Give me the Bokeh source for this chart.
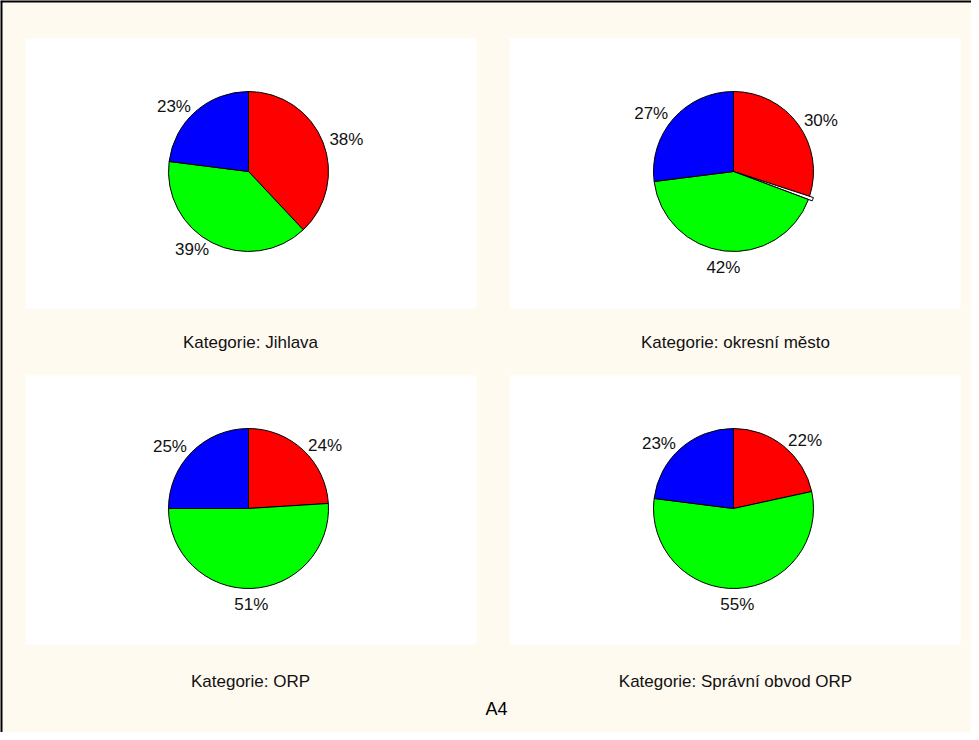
import math
from bokeh.plotting import figure
from bokeh.models import ColumnDataSource, Range1d, Span
from bokeh.core.properties import value
from bokeh.embed import file_html
from bokeh.resources import INLINE

# ---- data ----
categories = ["Jihlava", "okresní město", "ORP", "Správní obvod ORP"]
titles = ["Kategorie: " + c for c in categories]
slice_colors = ["#FF0000", "#FFFFFF", "#00FF00", "#0000FF"]
jihlava = [38.0, 0.0, 39.0, 23.0]
okresni_mesto = [30.0, 0.7, 42.3, 27.0]
orp = [24.0, 0.0, 51.0, 25.0]
spravni_obvod_orp = [21.6, 0.0, 55.4, 23.0]
series = [jihlava, okresni_mesto, orp, spravni_obvod_orp]
footer = "A4"

# ---- layout (pixels) ----
W, H = 971, 732
cream = "#FFFAF0"
font = value("Liberation Sans")
R = 80
pie_centers = [(248, 561), (733, 561), (248, 224), (733, 224)]
panels = [(25, 476, 424, 694), (509, 960, 424, 694), (25, 476, 88, 357), (509, 960, 88, 357)]
title_y = [390, 390, 51.5, 51.5]

p = figure(width=W, height=H, x_range=Range1d(0, W), y_range=Range1d(0, H),
           output_backend="svg", toolbar_location=None, min_border=0,
           x_axis_type=None, y_axis_type=None)
p.grid.visible = False
p.outline_line_color = None
p.background_fill_color = cream
p.border_fill_color = cream

# white panels
p.quad(left=[b[0] for b in panels], right=[b[1] for b in panels],
       bottom=[b[2] for b in panels], top=[b[3] for b in panels],
       fill_color="white", line_color=None)

wx, wy, ws, we, wc = [], [], [], [], []
lx, ly, lt, la, lb = [], [], [], [], []
for (cx, cy), vals in zip(pie_centers, series):
    total = sum(vals)
    cum = 0.0
    for v, col in zip(vals, slice_colors):
        if v <= 0:
            continue
        a0 = math.radians(90 - cum / total * 360)
        cum += v
        a1 = math.radians(90 - cum / total * 360)
        mid = (a0 + a1) / 2
        off = 4 if v < 1 else 0
        wx.append(cx + off * math.cos(mid)); wy.append(cy + off * math.sin(mid))
        ws.append(a1); we.append(a0); wc.append(col)
        if v >= 1:
            c, s = math.cos(mid), math.sin(mid)
            lx.append(cx + (R + 7) * c); ly.append(cy + (R + 7) * s)
            lt.append(f"{round(v)}%")
            if abs(c) < 0.3:
                la.append("center"); lb.append("top" if s < 0 else "bottom")
            else:
                la.append("left" if c > 0 else "right"); lb.append("middle")

p.wedge(x="x", y="y", radius=R, start_angle="s", end_angle="e", fill_color="c",
        line_color="black", line_width=1,
        source=ColumnDataSource(dict(x=wx, y=wy, s=ws, e=we, c=wc)))

p.text(x="x", y="y", text="t", text_align="a", text_baseline="b",
       text_font=font, text_font_size="17px", text_color="#111111",
       source=ColumnDataSource(dict(x=lx, y=ly, t=lt, a=la, b=lb)))

p.text(x=[c[0] + 2 for c in pie_centers], y=title_y, text=titles,
       text_align="center", text_baseline="middle", text_font=font,
       text_font_size="17px", text_color="#111111")

p.text(x=[496], y=[24], text=[footer], text_align="center", text_baseline="middle",
       text_font=font, text_font_size="18px", text_color="black")

p.add_layout(Span(location=0.75, dimension="height", line_color="black", line_width=2.5))
p.add_layout(Span(location=H - 0.75, dimension="width", line_color="black", line_width=2.5))

open("out.html", "w").write(file_html(p, INLINE))
